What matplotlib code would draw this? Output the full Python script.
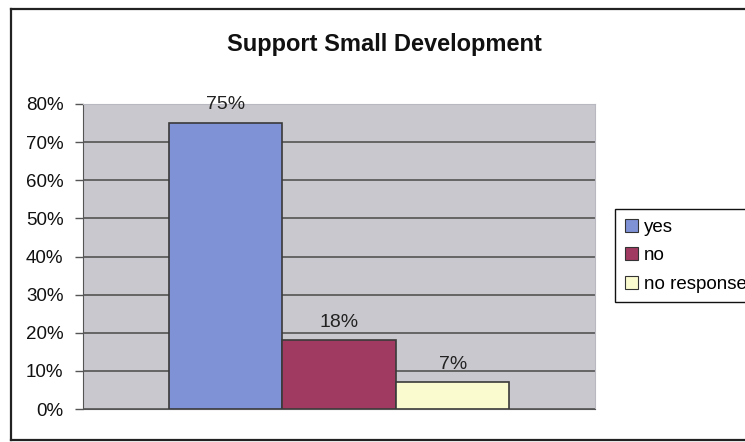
import matplotlib
matplotlib.use("Agg")
import matplotlib.pyplot as plt
from matplotlib.patches import Rectangle
from matplotlib.lines import Line2D

plt.rcParams['font.family'] = ['Liberation Sans', 'DejaVu Sans']

categories = ["yes", "no", "no response"]
values = [75, 18, 7]
colors = ["#7f92d6", "#a03a60", "#fbfbd0"]
yticks = [0, 10, 20, 30, 40, 50, 60, 70, 80]
ytick_labels = ["0%", "10%", "20%", "30%", "40%", "50%", "60%", "70%", "80%"]
title = "Support Small Development"

fig = plt.figure(figsize=(7.45, 4.42), dpi=100)
fig.patch.set_facecolor("white")

ax = fig.add_axes([83 / 745, 1 - 409 / 442, (595 - 83) / 745, (409 - 104) / 442])
ax.set_facecolor("#c8c8ce")

bar_w = 0.222
offsets = [-bar_w, 0, bar_w]
for cat, val, col, off in zip(categories, values, colors, offsets):
    ax.bar(off, val, width=bar_w, color=col, edgecolor="#3a3a3a",
           linewidth=1.2, label=cat, zorder=3)
    ax.annotate(f"{val}%", (off, val), xytext=(0, 7), textcoords="offset points",
                ha="center", va="bottom", fontsize=14, color="#222222", zorder=4)

ax.set_xlim(-0.5, 0.5)
ax.set_ylim(0, 80)
ax.set_yticks(yticks)
ax.set_yticklabels(ytick_labels, fontsize=13.5, color="#111111")
ax.set_xticks([])
ax.yaxis.grid(True, color="#4a4a4a", linewidth=1.1, zorder=1)
ax.set_axisbelow(True)
ax.tick_params(axis="y", length=6, width=1, color="#555555", pad=8)
for side in ["top", "right"]:
    ax.spines[side].set_color("#b8b8c0")
ax.spines["left"].set_color("#555555")
ax.spines["bottom"].set_color("#555555")

fig.text(384 / 745, 1 - 45 / 442, title, ha="center", va="center",
         fontsize=17, fontweight="bold", color="#111111")

handles = [Rectangle((0, 0), 1, 1, facecolor=c, edgecolor="#333333", linewidth=0.8)
           for c in colors]
fig.legend(handles, categories, loc="upper left",
           bbox_to_anchor=(606 / 745, 1 - 200 / 442), fontsize=13.5,
           frameon=True, fancybox=False, edgecolor="#111111", framealpha=1,
           handlelength=0.7, handleheight=0.7, handletextpad=0.3,
           labelspacing=0.6, borderpad=0.5)

# outer chart frame
fig.add_artist(Line2D([11 / 745, 11 / 745], [1 - 9 / 442, 1 - 440 / 442],
                      transform=fig.transFigure, color="#222222", linewidth=1.6))
fig.add_artist(Line2D([11 / 745, 1.0], [1 - 9 / 442, 1 - 9 / 442],
                      transform=fig.transFigure, color="#222222", linewidth=1.6))
fig.add_artist(Line2D([11 / 745, 1.0], [1 - 440 / 442, 1 - 440 / 442],
                      transform=fig.transFigure, color="#222222", linewidth=1.6))

fig.savefig("out.png", dpi=100)
